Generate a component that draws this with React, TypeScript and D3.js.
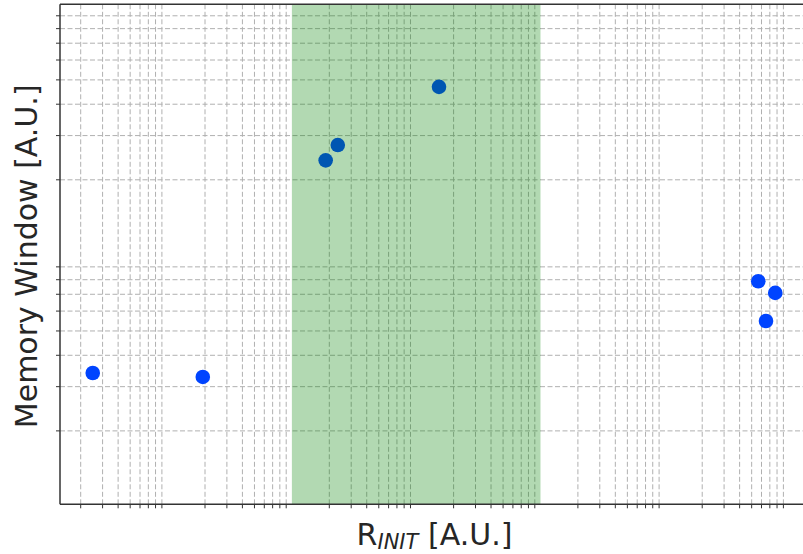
import React from "react";
import * as d3 from "d3";

// R_INIT values (A.U., log axis) and memory window values (A.U., log axis)
const rInit = [2.5, 19.2, 187, 234, 1526, 565000, 774000, 652000];
const memoryWindow = [0.34, 0.328, 2.39, 2.75, 4.69, 0.789, 0.709, 0.548];

// shaded window on the x axis
const windowSpan = [100, 10000];

const xDecades = [1, 10, 100, 1000, 10000, 100000, 1000000];
const yDecades = [0.1, 1];
const minorSteps = [2, 3, 4, 5, 6, 7, 8, 9];

const W = 803;
const H = 554;
const margin = { top: 4.3, right: 0, bottom: 49.7, left: 60 };
const width = W - margin.left - margin.right;
const height = H - margin.top - margin.bottom;

const x = d3.scaleLog().domain([1.363, 1.294e6]).range([0, width]);
const y = d3.scaleLog().domain([0.102, 10]).range([height, 0]);

const xMinor = xDecades.flatMap(d => minorSteps.map(m => d * m))
    .filter(v => v > x.domain()[0] && v < x.domain()[1]);
const yMinor = yDecades.flatMap(d => minorSteps.map(m => d * m))
    .filter(v => v > y.domain()[0] && v < y.domain()[1]);

const gridStyle = { stroke: "#b0b0b0", strokeWidth: 1, strokeDasharray: "5,2.5" };
const font = "'DejaVu Sans', sans-serif";

const App = () => {
    const points = rInit.map((r, i) => ({ r, m: memoryWindow[i] }));

    return (
        <svg width={W} height={H}
            style={{ position: "absolute", left: 0, top: 0, background: "white" }}>
            <defs>
                <clipPath id="plot-clip">
                    <rect width={width} height={height} />
                </clipPath>
            </defs>
            <g transform={`translate(${margin.left},${margin.top})`}>
                <g clipPath="url(#plot-clip)">
                    {xMinor.map(v => (
                        <line key={"vx" + v} x1={x(v)} x2={x(v)} y1={0} y2={height} style={gridStyle} />
                    ))}
                    {yMinor.map(v => (
                        <line key={"hy" + v} x1={0} x2={width} y1={y(v)} y2={y(v)} style={gridStyle} />
                    ))}
                    {points.map((d, i) => (
                        <circle key={i} cx={x(d.r)} cy={y(d.m)} r={7.3} fill="#0044ff" />
                    ))}
                    <rect
                        x={x(windowSpan[0])}
                        width={x(windowSpan[1]) - x(windowSpan[0])}
                        y={0}
                        height={height}
                        fill="green"
                        fillOpacity={0.3}
                    />
                </g>

                {/* minor ticks */}
                {xMinor.map(v => (
                    <line key={"tx" + v} x1={x(v)} x2={x(v)} y1={height} y2={height + 4} stroke="#333" />
                ))}
                {yMinor.map(v => (
                    <line key={"ty" + v} x1={-4} x2={0} y1={y(v)} y2={y(v)} stroke="#333" />
                ))}

                {/* spines */}
                <line x1={0} x2={width} y1={height} y2={height} stroke="#333" strokeWidth={1.5} />
                <line x1={0} x2={0} y1={0} y2={height} stroke="#333" strokeWidth={1.5} />
                <line x1={0} x2={width} y1={0} y2={0} stroke="#333" strokeWidth={1.5} />

                <text x={width / 2 + 3} y={height + 41} textAnchor="middle"
                    style={{ fontFamily: font, fontSize: 30, fill: "#262626" }}>
                    <tspan>R</tspan>
                    <tspan dy={4} style={{ fontSize: 21, fontStyle: "italic" }}>INIT</tspan>
                    <tspan dy={-4}> [A.U.]</tspan>
                </text>

                <text transform={`translate(${-23},${height / 2 + 2}) rotate(-90)`} textAnchor="middle"
                    style={{ fontFamily: font, fontSize: 30, fill: "#262626" }}>
                    Memory Window [A.U.]
                </text>
            </g>
        </svg>
    );
};

export default App;
